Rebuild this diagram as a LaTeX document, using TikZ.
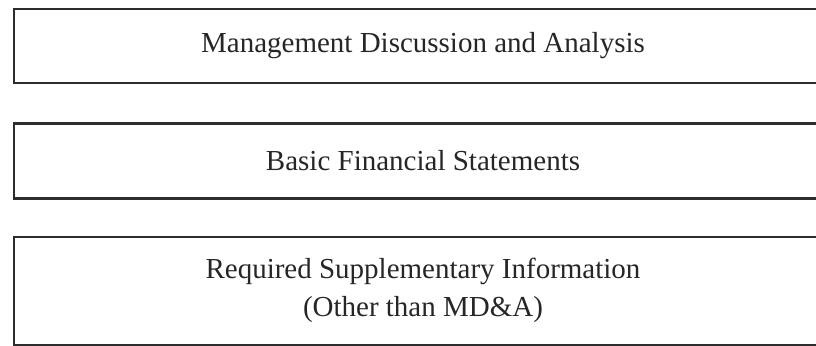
\documentclass[tikz,border=0pt]{standalone}
\usepackage{fontspec}
\setmainfont{Liberation Serif}
\usetikzlibrary{positioning}
\definecolor{boxline}{RGB}{45,45,45}
\tikzstyle{secbox} = [draw=boxline, line width=1.2pt, rectangle,
    minimum width=409pt, inner sep=0pt, align=center,
    text=black!85, font=\fontsize{14.5}{19}\selectfont]

\begin{document}
\begin{tikzpicture}[x=0.5pt,y=-0.5pt]
\useasboundingbox (0,0) rectangle (816,346);
\node[secbox, minimum height=37pt] (mda) at (423,46) {Management Discussion and Analysis};
\node[secbox, minimum height=37.5pt, below=19pt of mda] (bfs) {Basic Financial Statements};
\node[secbox, minimum height=54pt, below=18pt of bfs] (rsi) {Required Supplementary Information\\(Other than MD\&A)};
\end{tikzpicture}
\end{document}
